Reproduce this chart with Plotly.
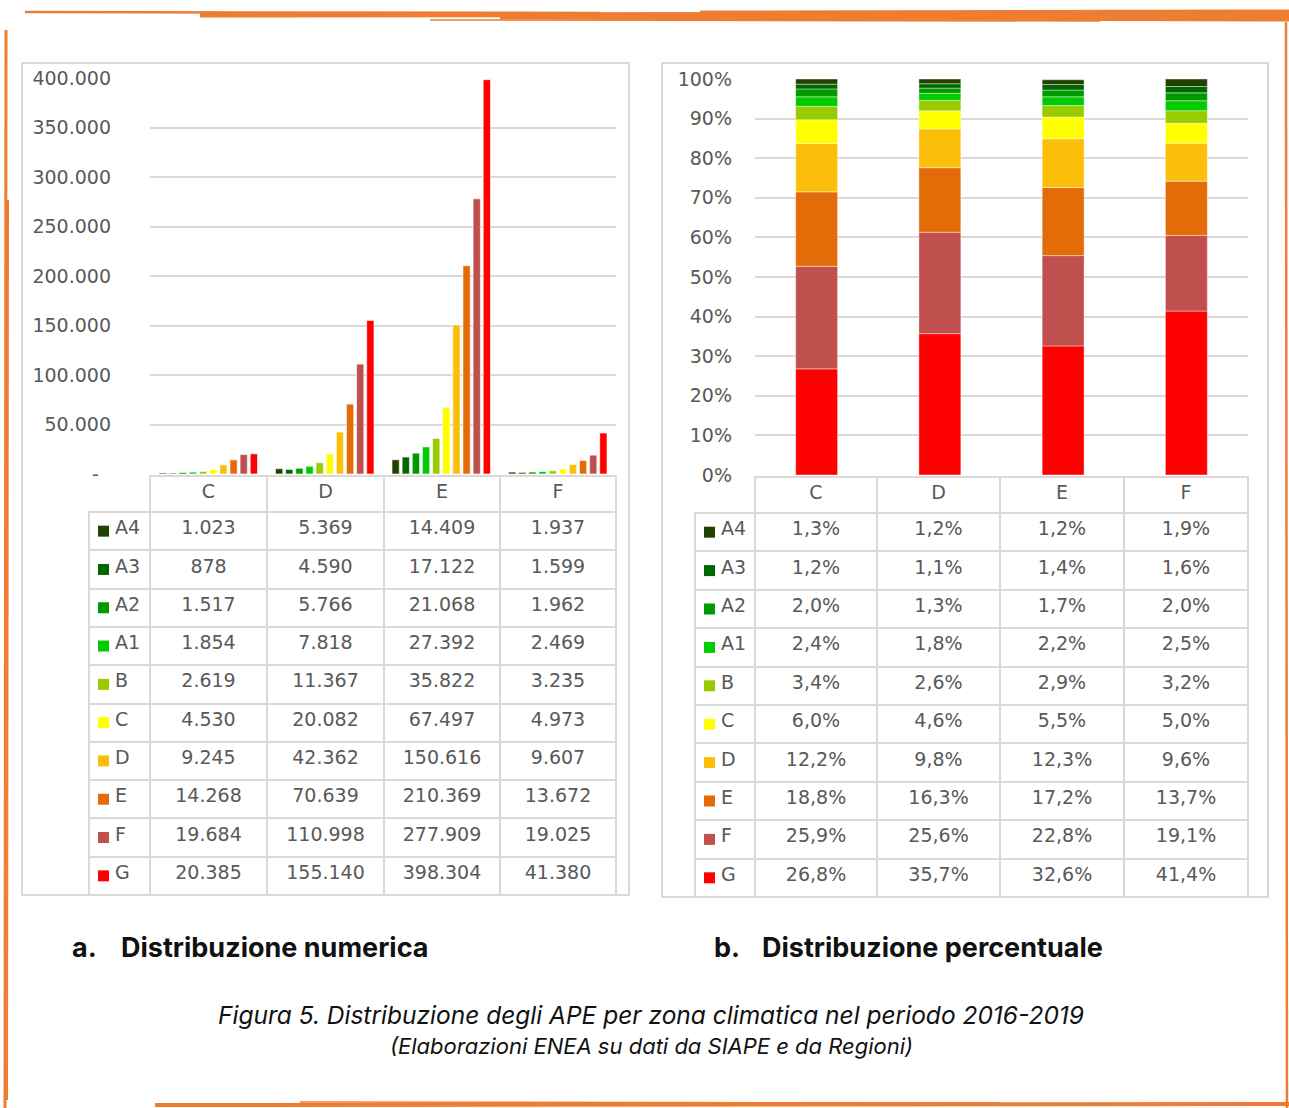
import plotly.graph_objects as go

# ---------------- data ----------------
zones = ["C", "D", "E", "F"]
classes = ["A4", "A3", "A2", "A1", "B", "C", "D", "E", "F", "G"]
class_colors = ["#224200", "#006600", "#009900", "#00cc00", "#99cc00",
                "#ffff00", "#fcbf09", "#e36c09", "#c0504d", "#ff0000"]

count_A4 = [1023, 5369, 14409, 1937]
count_A3 = [878, 4590, 17122, 1599]
count_A2 = [1517, 5766, 21068, 1962]
count_A1 = [1854, 7818, 27392, 2469]
count_B = [2619, 11367, 35822, 3235]
count_C = [4530, 20082, 67497, 4973]
count_D = [9245, 42362, 150616, 9607]
count_E = [14268, 70639, 210369, 13672]
count_F = [19684, 110998, 277909, 19025]
count_G = [20385, 155140, 398304, 41380]

pct_A4 = [1.3, 1.2, 1.2, 1.9]
pct_A3 = [1.2, 1.1, 1.4, 1.6]
pct_A2 = [2.0, 1.3, 1.7, 2.0]
pct_A1 = [2.4, 1.8, 2.2, 2.5]
pct_B = [3.4, 2.6, 2.9, 3.2]
pct_C = [6.0, 4.6, 5.5, 5.0]
pct_D = [12.2, 9.8, 12.3, 9.6]
pct_E = [18.8, 16.3, 17.2, 13.7]
pct_F = [25.9, 25.6, 22.8, 19.1]
pct_G = [26.8, 35.7, 32.6, 41.4]

left_ticks = [0, 50000, 100000, 150000, 200000, 250000, 300000, 350000, 400000]
left_ticktext = ["-\u00a0\u00a0", "50.000", "100.000", "150.000", "200.000",
                 "250.000", "300.000", "350.000", "400.000"]
right_ticks = [0, 10, 20, 30, 40, 50, 60, 70, 80, 90, 100]
right_ticktext = ["0%", "10%", "20%", "30%", "40%", "50%", "60%", "70%", "80%", "90%", "100%"]

counts = [count_A4, count_A3, count_A2, count_A1, count_B,
          count_C, count_D, count_E, count_F, count_G]
pcts = [pct_A4, pct_A3, pct_A2, pct_A1, pct_B,
        pct_C, pct_D, pct_E, pct_F, pct_G]

W, H = 1289, 1108
TXT = "#595959"
GRID = "#d9d9d9"
FONT = "DejaVu Sans"
TFONT = "Inter"
CLEAR = "rgba(0,0,0,0)"
FS = 19


def px(x):
    return x / W


def py(y):
    return 1 - y / H


fig = go.Figure()

# ---------------- left: grouped bars ----------------
for name, col, vals in zip(classes, class_colors, counts):
    fig.add_trace(go.Bar(
        x=zones, y=vals, name=name,
        marker=dict(color=col, line=dict(color="rgba(255,255,255,0.6)", width=1)),
        xaxis="x", yaxis="y", showlegend=False))

# ---------------- right: stacked percent bars (G at bottom) ----------------
base = [0.0] * len(zones)
for name, col, vals in reversed(list(zip(classes, class_colors, pcts))):
    fig.add_trace(go.Bar(
        x=zones, y=vals, base=list(base), name=name,
        marker=dict(color=col, line=dict(color="rgba(255,255,255,0.5)", width=0.8)),
        xaxis="x2", yaxis="y2", showlegend=False, width=0.34,
        offsetgroup="stack", alignmentgroup="stack"))
    base = [b + v for b, v in zip(base, vals)]

# ---------------- legend swatches in the tables (category axes) ----------------
for xa, ya in (("x3", "y3"), ("x4", "y4")):
    fig.add_trace(go.Scatter(
        x=["key"] * len(classes), y=classes, mode="markers",
        marker=dict(symbol="square", size=11, color=class_colors, line=dict(width=0)),
        xaxis=xa, yaxis=ya, showlegend=False, hoverinfo="skip"))

NB = "\u00a0\u00a0\u00a0"
legend_col = [NB + n for n in classes]


def fmt_int(v):
    return f"{v:,}".replace(",", ".")


def fmt_pct(v):
    return f"{v:.1f}".replace(".", ",") + "%"


left_cols = [legend_col] + [[fmt_int(counts[r][z]) for r in range(10)] for z in range(4)]
right_cols = [legend_col] + [[fmt_pct(pcts[r][z]) for r in range(10)] for z in range(4)]

hdr_line_colors = [CLEAR, GRID, GRID, GRID, GRID]
hdr_fill_colors = [CLEAR, "white", "white", "white", "white"]
cell_fill_colors = [CLEAR, "white", "white", "white", "white"]

fig.add_trace(go.Table(
    domain=dict(x=[px(89), px(616)], y=[py(899), py(476)]),
    columnwidth=[61, 117, 117, 116, 116],
    header=dict(values=[""] + zones, height=36, align="center",
                fill=dict(color=hdr_fill_colors), line=dict(color=hdr_line_colors, width=2),
                font=dict(family=FONT, size=FS, color=TXT)),
    cells=dict(values=left_cols, height=38.3, align=["left", "center", "center", "center", "center"],
               fill=dict(color=cell_fill_colors), line=dict(color=GRID, width=2),
               font=dict(family=FONT, size=FS, color=TXT)),
))

fig.add_trace(go.Table(
    domain=dict(x=[px(695), px(1248)], y=[py(901), py(477)]),
    columnwidth=[60, 122, 123, 124, 124],
    header=dict(values=[""] + zones, height=36, align="center",
                fill=dict(color=hdr_fill_colors), line=dict(color=hdr_line_colors, width=2),
                font=dict(family=FONT, size=FS, color=TXT)),
    cells=dict(values=right_cols, height=38.4, align=["left", "center", "center", "center", "center"],
               fill=dict(color=cell_fill_colors), line=dict(color=GRID, width=2),
               font=dict(family=FONT, size=FS, color=TXT)),
))

# ---------------- shapes ----------------
shapes = [
    dict(type="rect", xref="paper", yref="paper", x0=px(22), x1=px(629), y0=py(895), y1=py(63),
         line=dict(color=GRID, width=2), layer="above"),
    dict(type="rect", xref="paper", yref="paper", x0=px(662), x1=px(1268), y0=py(897), y1=py(63),
         line=dict(color=GRID, width=2), layer="above"),
    dict(type="line", xref="paper", yref="paper", x0=px(89), x1=px(151), y0=py(512), y1=py(512),
         line=dict(color=GRID, width=2), layer="above"),
    dict(type="line", xref="paper", yref="paper", x0=px(695), x1=px(756), y0=py(513), y1=py(513),
         line=dict(color=GRID, width=2), layer="above"),
]

ORANGE = "#ed7d31"
brush = [
    (25, 12, 600, 13, 2.5), (200, 15, 1289, 14, 5), (500, 17, 1289, 19, 5), (430, 20, 1100, 21, 1.5),
    (700, 12, 1289, 11, 3), (800, 16, 1289, 16, 4),
    (6, 30, 5, 1108, 3), (8, 200, 7, 1100, 2),
    (1286, 22, 1287, 1108, 2.5),
    (155, 1105, 1289, 1104, 4), (300, 1102, 1000, 1103, 1.5),
]
for x0, y0, x1, y1, w in brush:
    shapes.append(dict(type="line", xref="paper", yref="paper", x0=px(x0), x1=px(x1), y0=py(y0), y1=py(y1),
                       line=dict(color=ORANGE, width=w), layer="above"))

TS = 27
annotations = [
    dict(text="<b>a.</b>", x=px(70), y=py(948), xref="paper", yref="paper", xanchor="left", yanchor="middle",
         showarrow=False, font=dict(family=TFONT, size=TS, color="#111111")),
    dict(text="<b>Distribuzione numerica</b>", x=px(119), y=py(948), xref="paper", yref="paper",
         xanchor="left", yanchor="middle", showarrow=False, font=dict(family=TFONT, size=TS, color="#111111")),
    dict(text="<b>b.</b>", x=px(712), y=py(948), xref="paper", yref="paper", xanchor="left", yanchor="middle",
         showarrow=False, font=dict(family=TFONT, size=TS, color="#111111")),
    dict(text="<b>Distribuzione percentuale</b>", x=px(760), y=py(948), xref="paper", yref="paper",
         xanchor="left", yanchor="middle", showarrow=False, font=dict(family=TFONT, size=TS, color="#111111")),
    dict(text="<i>Figura 5. Distribuzione degli APE per zona climatica nel periodo 2016-2019</i>",
         x=px(651), y=py(1015), xref="paper", yref="paper", xanchor="center", yanchor="middle",
         showarrow=False, font=dict(family=TFONT, size=24.5, color="#111111")),
    dict(text="<i>(Elaborazioni ENEA su dati da SIAPE e da Regioni)</i>",
         x=px(651), y=py(1046), xref="paper", yref="paper", xanchor="center", yanchor="middle",
         showarrow=False, font=dict(family=TFONT, size=22, color="#111111")),
]

hidden = dict(showticklabels=False, showgrid=False, zeroline=False, showline=False, ticks="",
              automargin=False, fixedrange=True)

fig.update_layout(
    width=W, height=H, margin=dict(l=0, r=0, t=0, b=0, pad=0), autosize=False,
    paper_bgcolor="white", plot_bgcolor=CLEAR,
    barmode="group", bargap=0.13, bargroupgap=0.28,
    separators=",.",
    xaxis=dict(domain=[px(150), px(616)], **hidden),
    yaxis=dict(domain=[py(474), py(78)], range=[0, 400000], tickvals=left_ticks, ticktext=left_ticktext,
               showgrid=True, gridcolor=GRID, gridwidth=1.5, zeroline=False, showline=False, ticks="",
               ticklabelstandoff=38, tickfont=dict(family=FONT, size=FS, color=TXT), automargin=False),
    xaxis2=dict(domain=[px(755), px(1248)], anchor="y2", **hidden),
    yaxis2=dict(domain=[py(475), py(79)], range=[0, 100], tickvals=right_ticks, ticktext=right_ticktext,
                showgrid=True, gridcolor=GRID, gridwidth=1.5, zeroline=False, showline=False, ticks="",
                ticklabelstandoff=22, tickfont=dict(family=FONT, size=FS, color=TXT), anchor="x2",
                automargin=False),
    xaxis3=dict(domain=[px(97), px(110)], anchor="y3", **hidden),
    yaxis3=dict(domain=[py(895), py(512)], anchor="x3", type="category", categoryorder="array",
                categoryarray=classes, range=[9.5, -0.5], **hidden),
    xaxis4=dict(domain=[px(703), px(716)], anchor="y4", **hidden),
    yaxis4=dict(domain=[py(897), py(513)], anchor="x4", type="category", categoryorder="array",
                categoryarray=classes, range=[9.5, -0.5], **hidden),
    shapes=shapes,
    annotations=annotations,
)

fig.write_html("out.html", config={"displayModeBar": False},
               post_script="document.body.style.margin='0px';")
